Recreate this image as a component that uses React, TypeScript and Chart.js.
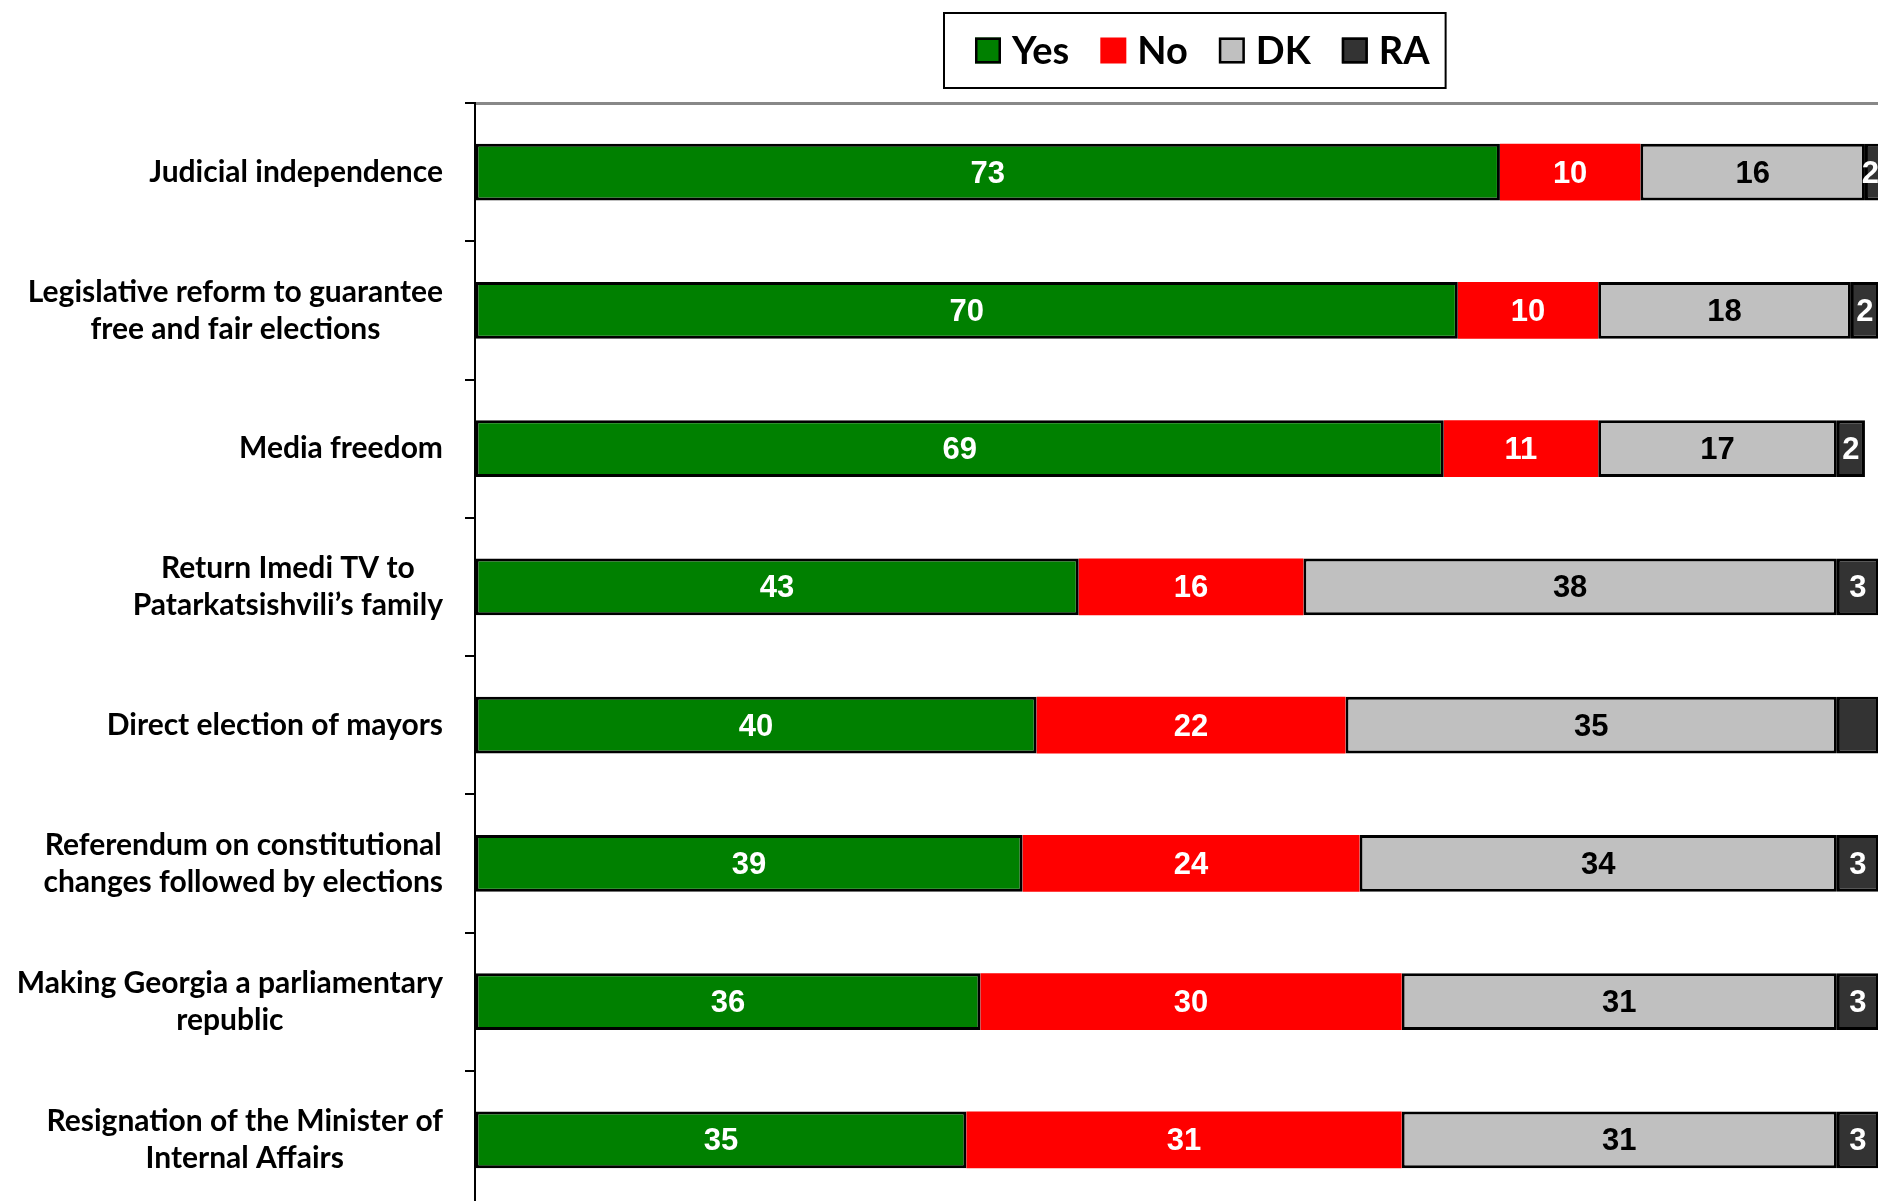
import React, { useEffect, useRef } from "react";
import { Chart, registerables } from "chart.js";

Chart.register(...registerables);

// ---- data ----
const categories: string[][] = [
  ["Judicial independence"],
  ["Legislative reform to guarantee", "free and fair elections"],
  ["Media freedom"],
  ["Return Imedi TV to", "Patarkatsishvili\u2019s family"],
  ["Direct election of mayors"],
  ["Referendum on constitutional", "changes followed by elections"],
  ["Making Georgia a parliamentary", "republic"],
  ["Resignation of the Minister of", "Internal Affairs"],
];
const seriesNames = ["Yes", "No", "DK", "RA"];
const yesValues = [73, 70, 69, 43, 40, 39, 36, 35];
const noValues = [10, 10, 11, 16, 22, 24, 30, 31];
const dkValues = [16, 18, 17, 38, 35, 34, 31, 31];
const raValues = [2, 2, 2, 3, 3, 3, 3, 3];
const raLabelShown = [true, true, true, true, false, true, true, true];
const xMin = 0;
const xMax = 100;

// ---- styles ----
const fillColors = ["#008000", "#FF0000", "#C0C0C0", "#333333"];
const borderWidths = [3, 0, 3, 3];
const labelColors = ["#FFFFFF", "#FFFFFF", "#000000", "#FFFFFF"];
const CAT_FONT = "bold 30px Lato, 'Open Sans', sans-serif";
const CAT_LINE_H = 37;
const VAL_FONT = "bold 31px 'Liberation Sans', Arial, sans-serif";
const LEG_FONT = "bold 38px Lato, 'Open Sans', sans-serif";

const valueLabelsPlugin = {
  id: "valueLabels",
  afterDatasetsDraw(chart: any) {
    const ctx = chart.ctx;
    const area = chart.chartArea;
    ctx.save();
    ctx.font = VAL_FONT;
    ctx.textAlign = "center";
    ctx.textBaseline = "middle";
    chart.data.datasets.forEach((ds: any, di: number) => {
      const meta = chart.getDatasetMeta(di);
      meta.data.forEach((el: any, i: number) => {
        if (di === 3 && !raLabelShown[i]) return;
        const text = String(ds.data[i]);
        const w = ctx.measureText(text).width;
        let x = (el.x + el.base) / 2;
        if (x + w / 2 > area.right) x = area.right - w / 2;
        ctx.fillStyle = labelColors[di];
        ctx.fillText(text, x, el.y + 2);
      });
    });
    ctx.restore();
  },
};

const categoryLabelsPlugin = {
  id: "categoryLabels",
  afterDraw(chart: any) {
    const ctx = chart.ctx;
    const scale = chart.scales.y;
    const rightEdge = scale.right - 32;
    ctx.save();
    ctx.font = CAT_FONT;
    ctx.fillStyle = "#000000";
    ctx.textAlign = "center";
    ctx.textBaseline = "middle";
    (chart.data.labels as string[][]).forEach((lines, i) => {
      const y = scale.getPixelForTick(i);
      const bw = Math.max(...lines.map((l) => ctx.measureText(l).width));
      const cx = rightEdge - bw / 2;
      lines.forEach((l, j) => {
        ctx.fillText(l, cx, y + (j - (lines.length - 1) / 2) * CAT_LINE_H);
      });
    });
    ctx.restore();
  },
};

const boxLegendPlugin = {
  id: "boxLegend",
  afterDraw(chart: any) {
    const ctx = chart.ctx;
    const left = 944;
    const top = 13;
    const height = 75;
    const padL = 31;
    const padR = 16;
    const sq = 26;
    const gapText = 11;
    const gapItem = 31;
    ctx.save();
    ctx.font = LEG_FONT;
    const widths = chart.data.datasets.map((d: any) => ctx.measureText(d.label).width);
    let total = padL + padR;
    widths.forEach((w: number, i: number) => {
      total += sq + gapText + w + (i < widths.length - 1 ? gapItem : 0);
    });
    ctx.fillStyle = "#FFFFFF";
    ctx.fillRect(left, top, total, height);
    ctx.strokeStyle = "#000000";
    ctx.lineWidth = 2;
    ctx.strokeRect(left, top, total, height);
    const cy = top + height / 2;
    let x = left + padL;
    chart.data.datasets.forEach((d: any, i: number) => {
      ctx.fillStyle = d.backgroundColor;
      ctx.fillRect(x, cy - sq / 2, sq, sq);
      if (d.borderWidth > 0) {
        ctx.lineWidth = 2.5;
        ctx.strokeStyle = "#000000";
        ctx.strokeRect(x + 1.25, cy - sq / 2 + 1.25, sq - 2.5, sq - 2.5);
      }
      x += sq + gapText;
      ctx.fillStyle = "#000000";
      ctx.textAlign = "left";
      ctx.textBaseline = "middle";
      ctx.fillText(d.label, x, cy + 1);
      x += widths[i] + gapItem;
    });
    ctx.restore();
  },
};

export default function App() {
  const ref = useRef<HTMLCanvasElement | null>(null);
  useEffect(() => {
    if (!ref.current) return;
    const valueSets = [yesValues, noValues, dkValues, raValues];
    const chart = new Chart(ref.current, {
      type: "bar",
      data: {
        labels: categories as any,
        datasets: seriesNames.map((name, i) => ({
          label: name,
          data: valueSets[i],
          backgroundColor: fillColors[i],
          borderColor: "#000000",
          borderWidth: borderWidths[i],
          borderSkipped: false,
          barPercentage: 0.412,
          categoryPercentage: 1.0,
        })),
      },
      options: {
        indexAxis: "y",
        responsive: false,
        animation: false,
        events: [],
        layout: { padding: { top: 103, left: 0, right: 0, bottom: 0 } },
        plugins: { legend: { display: false }, tooltip: { enabled: false } },
        scales: {
          x: {
            stacked: true,
            min: xMin,
            max: xMax,
            position: "top",
            ticks: { display: false },
            grid: { drawOnChartArea: false, drawTicks: false },
            border: { color: "#888888", width: 3 },
            afterFit: (s: any) => {
              s.height = 0;
            },
          },
          y: {
            stacked: true,
            ticks: { display: false },
            grid: {
              drawOnChartArea: false,
              drawTicks: true,
              tickLength: 10,
              color: "#000000",
              lineWidth: 2,
              offset: true,
            },
            border: { color: "#000000", width: 2 },
            afterFit: (s: any) => {
              s.width = 475;
            },
          },
        },
      } as any,
      plugins: [valueLabelsPlugin, categoryLabelsPlugin, boxLegendPlugin],
    });
    return () => chart.destroy();
  }, []);
  return (
    <div
      style={{
        position: "fixed",
        left: 0,
        top: 0,
        width: 1878,
        height: 1201,
        overflow: "hidden",
        background: "#ffffff",
      }}
    >
      <canvas ref={ref} width={1879} height={1209} style={{ display: "block" }} />
    </div>
  );
}
